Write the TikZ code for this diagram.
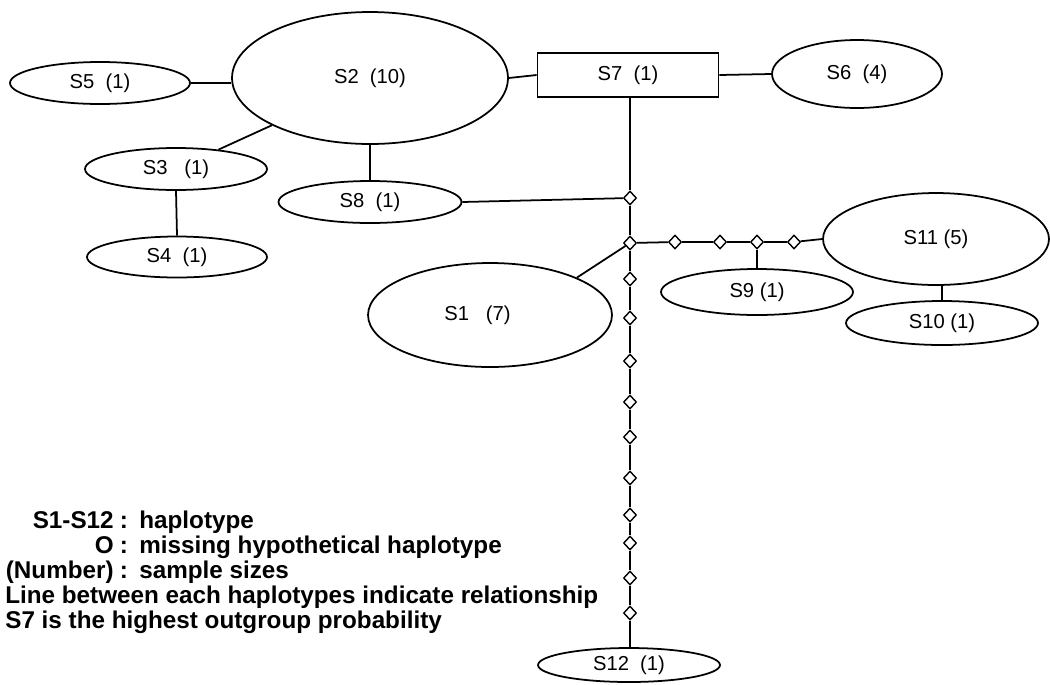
\documentclass[tikz,border=0pt]{standalone}
\usepackage{fontspec}
\setmainfont{Liberation Sans}
\usetikzlibrary{shapes.geometric}
\tikzset{
  hap/.style={ellipse, draw, line width=1pt, inner sep=0pt, font=\fontsize{11.5}{13}\selectfont},
  outg/.style={rectangle, draw, line width=1pt, inner sep=0pt, font=\fontsize{11.5}{13}\selectfont},
  miss/.style={diamond, draw, fill=white, line width=0.8pt, inner sep=0pt, minimum width=0.26cm, minimum height=0.28cm},
  link/.style={line width=1pt},
  legend/.style={font=\fontsize{13.8}{16}\selectfont\bfseries, inner sep=0pt}
}
\begin{document}
\begin{tikzpicture}[x=0.02cm, y=-0.02cm]
\useasboundingbox (0,0) rectangle (1050,684);
% haplotypes
\node[hap, minimum width=3.6cm, minimum height=0.84cm] (s5) at (100,83) {S5\ \ (1)};
\node[hap, minimum width=5.52cm, minimum height=2.64cm] (s2) at (370,78) {S2\ \ (10)};
\node[outg, minimum width=3.62cm, minimum height=0.88cm] (s7) at (628,75) {S7\ \ (1)};
\node[hap, minimum width=3.4cm, minimum height=1.36cm] (s6) at (857,74) {S6\ \ (4)};
\node[hap, minimum width=3.64cm, minimum height=0.84cm] (s3) at (176,169) {S3\ \ \ (1)};
\node[hap, minimum width=3.6cm, minimum height=0.82cm] (s4) at (177,257) {S4\ \ (1)};
\node[hap, minimum width=3.66cm, minimum height=0.84cm] (s8) at (370,202) {S8\ \ (1)};
\node[hap, minimum width=4.88cm, minimum height=2.08cm] (s1) at (490,315) {\hspace*{-0.5cm}S1\ \ \ (7)};
\node[hap, minimum width=4.52cm, minimum height=1.84cm] (s11) at (936,239) {S11 (5)};
\node[hap, minimum width=3.84cm, minimum height=0.92cm] (s9) at (757,292) {S9 (1)};
\node[hap, minimum width=3.84cm, minimum height=0.88cm] (s10) at (942,323) {S10 (1)};
\node[hap, minimum width=3.64cm, minimum height=0.68cm] (s12) at (629,665) {S12\ \ (1)};
% connectors among haplotypes
\draw[link] (s5.east) -- (s5.east -| s2.west);
\draw[link] (s2.east) -- (s7.west);
\draw[link] (s7.east) -- (s6.west);
\draw[link] (s2.south west) -- (s3);
\draw[link] (s2.south) -- (s8.north);
\draw[link] (s3.south) -- (s4.north);
\draw[link] (s10.north) -- (s11.south -| s10.north);
% missing haplotypes
\node[miss] (j1) at (630,198) {};
\node[miss] (j2) at (630,243) {};
\node[miss] (h1) at (675,242) {};
\node[miss] (h2) at (720,242) {};
\node[miss] (h3) at (757,242) {};
\node[miss] (h4) at (794,242) {};
\foreach \i/\y in {1/279,2/318,3/361,4/402,5/437,6/478,7/515,8/543,9/578,10/613}
  \node[miss] (v\i) at (630,\y) {};
% trunk
\draw[link] (s7.south -| j1) -- (j1);
\draw[link] (j1) -- (j2);
\draw[link] (j2) -- (v1);
\foreach \a/\b in {1/2,2/3,3/4,4/5,5/6,6/7,7/8,8/9,9/10}
  \draw[link] (v\a) -- (v\b);
\draw[link] (v10) -- (v10 |- s12.north);
\draw[link] (s8.east) -- (j1);
\draw[link] (j2) -- (s1.north east);
\draw[link] (j2) -- (h1);
\draw[link] (h1) -- (h2);
\draw[link] (h2) -- (h3);
\draw[link] (h3) -- (h4);
\draw[link] (h4) -- (s11.west);
\draw[link] (h3) -- (s9.north);
% legend
\node[legend, anchor=base east] (l1a) at (114,528) {S1-S12};
\node[legend, anchor=base] (l1c) at (124,528) {:};
\node[legend, anchor=base west] (l1b) at (139,528) {haplotype};
\node[legend, anchor=base east] (l2a) at (114,553) {O};
\node[legend, anchor=base] (l2c) at (124,553) {:};
\node[legend, anchor=base west] (l2b) at (139,553) {missing hypothetical haplotype};
\node[legend, anchor=base east] (l3a) at (114,578) {(Number)};
\node[legend, anchor=base] (l3c) at (124,578) {:};
\node[legend, anchor=base west] (l3b) at (139,578) {sample sizes};
\node[legend, anchor=base west] (l4) at (5,603) {Line between each haplotypes indicate relationship};
\node[legend, anchor=base west] (l5) at (5,628) {S7 is the highest outgroup probability};
\end{tikzpicture}
\end{document}
